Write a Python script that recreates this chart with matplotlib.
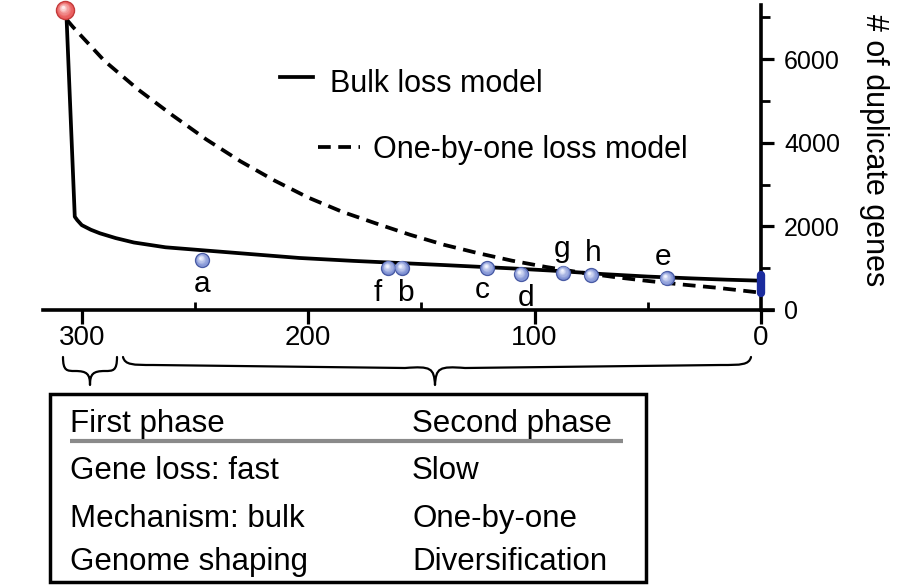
import numpy as np
import matplotlib
matplotlib.use("Agg")
import matplotlib.pyplot as plt
from matplotlib.transforms import offset_copy
from matplotlib.path import Path
from matplotlib.patches import PathPatch, Rectangle
from matplotlib.colors import to_rgb

plt.rcParams['font.family'] = ['Liberation Sans', 'DejaVu Sans']

# ---------------- data ----------------
bulk_x = [306.7, 303.1, 302.0, 300.0, 296.0, 292.0, 285.0, 277.0, 263.0, 248.0, 226.0,
          204.0, 180.0, 160.0, 140.0, 125.0, 110.0, 90.0, 70.0, 50.0, 30.0, 15.0, 0.0]
bulk_y = [6950, 2232, 2150, 2030, 1920, 1835, 1720, 1615, 1500, 1435, 1340,
          1245, 1175, 1125, 1075, 1035, 995, 935, 860, 800, 755, 725, 701]

one_x = [306.7, 304, 290, 275, 260, 245, 230, 215, 200, 185, 170, 155, 140, 125,
         110, 95, 80, 65, 50, 35, 20, 0]
one_y = [6950, 6777, 5960, 5270, 4660, 4080, 3560, 3100, 2690, 2350, 2070, 1800,
         1560, 1360, 1180, 1030, 900, 790, 695, 610, 535, 414]

origin_x = [307.5]
origin_y = [7177]

pt_names = ['a', 'f', 'b', 'c', 'd', 'g', 'h', 'e']
pt_x = [246.9, 164.6, 158.7, 120.9, 106.1, 87.3, 75.2, 41.7]
pt_y = [1196, 1010, 1010, 1005, 861, 892, 830, 758]

present_x = [0, 0]
present_y = [400, 840]

x_ticks = [300, 200, 100, 0]
x_minor = [250, 150, 50]
y_ticks = [0, 2000, 4000, 6000]
y_minor = [1000, 3000, 5000, 7000]

legend_labels = ['Bulk loss model', 'One-by-one loss model']
y_label = '# of duplicate genes'
table_header = ['First phase', 'Second phase']
table_rows = [['Gene loss: fast', 'Slow'],
              ['Mechanism: bulk', 'One-by-one'],
              ['Genome shaping', 'Diversification']]

# ---------------- figure ----------------
W, H = 898, 586
fig = plt.figure(figsize=(W / 100, H / 100), dpi=100)

ax = fig.add_axes([0.04822, 0.47099, 0.8131, 0.52072])
ax.set_xlim(317, -5.5)
ax.set_ylim(0, 7300)
ax.patch.set_visible(False)

for s in ['left', 'top']:
    ax.spines[s].set_visible(False)
ax.spines['right'].set_position(('data', 0))
ax.spines['right'].set_linewidth(2.6)
ax.spines['bottom'].set_linewidth(2.6)

ax.yaxis.tick_right()
ax.set_xticks(x_ticks)
ax.set_xticks(x_minor, minor=True)
ax.set_yticks(y_ticks)
ax.set_yticks(y_minor, minor=True)
ax.tick_params(axis='x', which='major', direction='out', length=10, width=2.3,
               labelsize=20, pad=1)
ax.tick_params(axis='x', which='minor', direction='in', length=6, width=2.0)
ax.tick_params(axis='y', which='major', direction='out', length=9.5, width=2.3,
               labelsize=18, pad=7)
ax.tick_params(axis='y', which='minor', direction='out', length=6.5, width=2.0)

# curves
ax.plot(bulk_x, bulk_y, color='black', lw=2.7, solid_joinstyle='round', zorder=3,
        clip_on=False)
ax.plot(one_x, one_y, color='black', lw=2.7, dashes=(3.4, 2.0), zorder=3, clip_on=False)

# present-day range bar
ax.plot(present_x, present_y, color='#1b2c9e', lw=6, solid_capstyle='round',
        zorder=6, clip_on=False)


def blend(c1, c2, t):
    a = np.array(to_rgb(c1))
    b = np.array(to_rgb(c2))
    return tuple(a + (b - a) * t)


def sphere(x, y, size, base, edge, hi, z=7):
    ax.plot(x, y, 'o', ms=size, mfc=base, mec=edge, mew=1.0, zorder=z, clip_on=False)
    n = 7
    for i in range(1, n + 1):
        t = i / n
        s = size * (1 - 0.82 * t)
        tr = offset_copy(ax.transData, fig=fig, x=-0.12 * size * t, y=0.16 * size * t,
                         units='points')
        ax.plot(x, y, 'o', ms=s, mfc=blend(base, hi, t ** 1.3), mec='none',
                transform=tr, zorder=z + 0.01 * i, clip_on=False)


sphere(pt_x, pt_y, 10, '#7e90d4', '#4a5ca5', '#f2f5ff')
sphere(origin_x, origin_y, 13, '#e85555', '#c23a3a', '#ffe8e8', z=8)

# point labels (offsets in pixels: dx, dy upward)
label_off = {'a': (0, -24), 'f': (-11, -25), 'b': (4, -25), 'c': (-5, -22),
             'd': (5, -24), 'g': (-1, 24), 'h': (2, 22), 'e': (-4, 21)}
for n, x, y in zip(pt_names, pt_x, pt_y):
    dx, dy = label_off[n]
    ax.annotate(n, (x, y), xytext=(dx * 0.72, dy * 0.72), textcoords='offset points',
                ha='center', va='center', fontsize=21.5, zorder=9)

# ---------------- overlay in pixel coordinates ----------------
ov = fig.add_axes([0, 0, 1, 1])
ov.set_xlim(0, W)
ov.set_ylim(H, 0)
ov.axis('off')
ov.patch.set_visible(False)

# legend
ov.plot([280, 313], [77, 77], color='black', lw=2.7)
ov.text(330, 91.7, legend_labels[0], fontsize=22, va='baseline', ha='left')
ov.plot([318, 360], [147, 147], color='black', lw=2.7, dashes=(3.4, 2.0))
ov.text(373, 158, legend_labels[1], fontsize=22, va='baseline', ha='left')

# y label
ov.text(874, 150, y_label, fontsize=22, rotation=270, ha='center', va='center')


# braces
def brace(x0, x1, xm, y0, ymid, yt, lm, rm):
    verts = [(x0, y0),
             (x0 + 2, ymid), (x0 + 10, ymid), (x0 + lm, ymid),
             (xm - lm, ymid + (yt - ymid) * 0.15),
             (xm - 4, ymid + 1), (xm - 1, ymid + 3), (xm, yt),
             (xm + 1, ymid + 3), (xm + 4, ymid + 1), (xm + rm, ymid + (yt - ymid) * 0.15),
             (x1 - lm, ymid),
             (x1 - 10, ymid), (x1 - 2, ymid), (x1, y0)]
    codes = [Path.MOVETO,
             Path.CURVE4, Path.CURVE4, Path.CURVE4,
             Path.LINETO,
             Path.CURVE4, Path.CURVE4, Path.CURVE4,
             Path.CURVE4, Path.CURVE4, Path.CURVE4,
             Path.LINETO,
             Path.CURVE4, Path.CURVE4, Path.CURVE4]
    ov.add_patch(PathPatch(Path(verts, codes), fill=False, lw=1.6, color='black',
                           capstyle='round', joinstyle='round'))


def brace_small(x0, x1, xm, y0, ymid, yt):
    verts = [(x0, y0),
             (x0, ymid), (x0 + 4, ymid), (x0 + 12, ymid),
             (xm - 3, ymid), (xm, ymid + 3), (xm, yt),
             (xm, ymid + 3), (xm + 3, ymid), (x1 - 12, ymid),
             (x1 - 4, ymid), (x1, ymid), (x1, y0)]
    codes = [Path.MOVETO] + [Path.CURVE4] * 12
    ov.add_patch(PathPatch(Path(verts, codes), fill=False, lw=1.6, color='black',
                           capstyle='round', joinstyle='round'))


brace_small(63, 117, 90, 357, 371, 385)
brace(123, 751, 435, 357, 365, 385, 30, 30)

# table box
ov.add_patch(Rectangle((50, 394), 596, 188, fill=False, lw=2.5, edgecolor='black'))
ov.plot([70, 623], [440.7, 440.7], color='#8a8a8a', lw=3.0, solid_capstyle='butt')

col_x = [70, 412]
fs_tab = 22.5
ov.text(col_x[0], 431.7, table_header[0], fontsize=fs_tab, va='baseline', ha='left')
ov.text(col_x[1], 431.7, table_header[1], fontsize=fs_tab, va='baseline', ha='left')
row_base = [479.3, 526.7, 570]
for (l, r), yb in zip(table_rows, row_base):
    ov.text(col_x[0], yb, l, fontsize=fs_tab, va='baseline', ha='left')
    ov.text(col_x[1], yb, r, fontsize=fs_tab, va='baseline', ha='left')

fig.savefig('out.png', dpi=100)
